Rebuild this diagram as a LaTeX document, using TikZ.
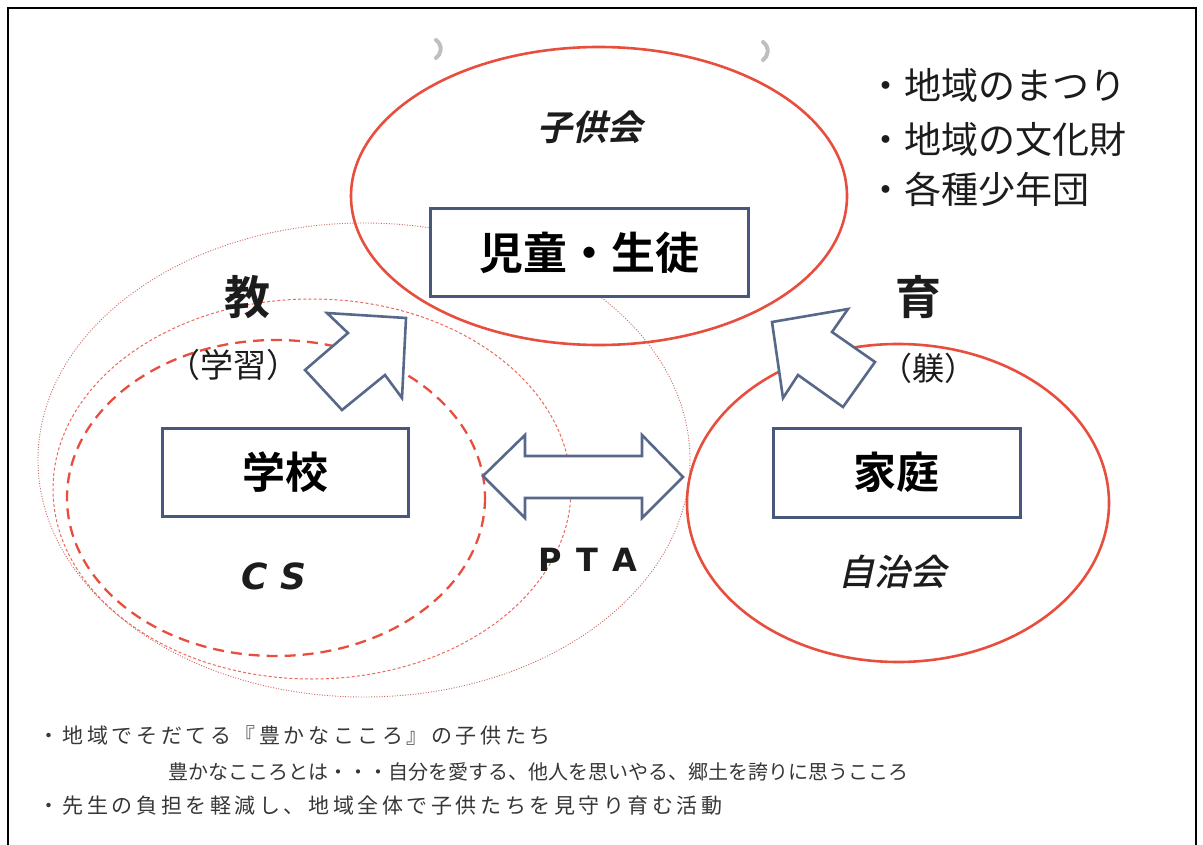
\documentclass[tikz,border=0pt]{standalone}
\usepackage{fontspec}
\newfontfamily\cjk[BoldFont={* Bold}]{Noto Sans CJK JP}
\newfontfamily\cjkwide[LetterSpace=17]{Noto Sans CJK JP}
\newfontfamily\cjkslant[FakeSlant=0.22]{Noto Sans CJK JP Bold}
\newfontfamily\cjkslantm[FakeSlant=0.22]{Noto Sans CJK JP Medium}
\newfontfamily\latinbi{DejaVu Sans}
\definecolor{ered}{RGB}{232,78,62}
\definecolor{edot}{RGB}{205,105,100}
\definecolor{eblue}{RGB}{72,88,124}
\definecolor{ablue}{RGB}{88,104,138}
\definecolor{ink}{RGB}{28,28,28}
\definecolor{note}{RGB}{55,55,55}
\tikzset{
  box/.style={draw=eblue, line width=3pt, fill=white, inner sep=0pt},
  redring/.style={draw=ered, line width=2.6pt},
  reddash/.style={draw=ered, line width=2.3pt, dash pattern=on 11pt off 7pt},
  reddot/.style={draw=edot, line width=0.9pt, dash pattern=on 1pt off 1.6pt},
  redfine/.style={draw=ered!85, line width=1pt, dash pattern=on 3pt off 2.2pt},
  blockarrow/.style={draw=ablue, line width=2.6pt, line join=miter, fill=white},
  hole/.style={draw=gray!50, line width=4pt, line cap=round},
  lbl/.style={text=ink, inner sep=0pt},
}
\begin{document}
\begin{tikzpicture}[x=1pt,y=-1pt]
\useasboundingbox (0,0) rectangle (1203,845);
% frame
\draw[line width=1.6pt, black] (8,845) -- (8,8) -- (1196,8) -- (1196,845);
% binder hole shadows
\draw[hole] (436,40) arc[start angle=55, end angle=-55, radius=11pt];
\draw[hole] (763,42) arc[start angle=55, end angle=-55, radius=11pt];
% dotted / dashed ellipses (left group)
\draw[reddot] (364,460) ellipse[x radius=326, y radius=237];
\draw[redfine] (312,489) ellipse[x radius=259, y radius=190];
\draw[reddash] (276,498) ellipse[x radius=209, y radius=158];
% solid ellipses
\draw[redring] (599,196) ellipse[x radius=248, y radius=149];
\draw[redring] (898,503) ellipse[x radius=211, y radius=159];
% boxes
\node[box, minimum width=318pt, minimum height=88pt] (kids) at (589,253)
  {\cjk\bfseries\fontsize{44}{48}\selectfont 児童・生徒};
\node[box, minimum width=246pt, minimum height=88pt] (school) at (285,472)
  {\cjk\bfseries\fontsize{43}{46}\selectfont 学校};
\node[box, minimum width=247pt, minimum height=89pt] (home) at (896.5,472.5)
  {\cjk\bfseries\fontsize{43}{46}\selectfont 家庭};
% block arrow: school -> kids
\draw[blockarrow] (406,318) -- (327,313) -- (348,333) -- (305,370) -- (342,410)
  -- (385,375) -- (402,398) -- cycle;
% block arrow: home -> kids
\draw[blockarrow] (772,322) -- (848,309) -- (832,332) -- (875,362) -- (843,407)
  -- (798,375) -- (783,398) -- cycle;
% PTA double arrow
\draw[blockarrow] (483,476) -- (525,435) -- (525,456) -- (642,456) -- (642,435)
  -- (683,477) -- (642,518) -- (642,498) -- (525,498) -- (525,518) -- cycle;
% labels
\node[lbl] (kodomokai) at (590,127) {\cjkslant\fontsize{35}{38}\selectfont 子供会};
\node[lbl] (jichikai) at (892,572) {\cjkslantm\fontsize{36}{38}\selectfont 自治会};
\node[lbl] (kyo) at (247,297) {\cjk\bfseries\fontsize{46}{48}\selectfont 教};
\node[lbl] (gakushu) at (233,365) {\cjk\fontsize{33}{35}\selectfont （学習）};
\node[lbl] (iku) at (918,297) {\cjk\bfseries\fontsize{46}{48}\selectfont 育};
\node[lbl] (shitsuke) at (928,368) {\cjk\fontsize{32}{34}\selectfont （躾）};
\node[lbl] (cs) at (274,576) {\latinbi\bfseries\itshape\fontsize{36}{38}\selectfont C\,\,S};
\node[lbl] (pta) at (588,560) {\latinbi\bfseries\fontsize{32}{34}\selectfont P\hspace{14pt}T\hspace{14pt}A};
% list top right
\node[lbl, anchor=west] (l1) at (867,85) {\cjk\fontsize{37}{40}\selectfont ・地域のまつり};
\node[lbl, anchor=west] (l2) at (867,139) {\cjk\fontsize{37}{40}\selectfont ・地域の文化財};
\node[lbl, anchor=west] (l3) at (867,189) {\cjk\fontsize{37}{40}\selectfont ・各種少年団};
% notes bottom
\node[lbl, text=note, anchor=west] (n1) at (38,736) {\cjkwide\fontsize{21}{24}\selectfont ・地域でそだてる『豊かなこころ』の子供たち};
\node[lbl, text=note, anchor=west] (n2) at (168,772) {\cjk\fontsize{20}{24}\selectfont 豊かなこころとは・・・自分を愛する、他人を思いやる、郷土を誇りに思うこころ};
\node[lbl, text=note, anchor=west] (n3) at (38,806) {\cjkwide\fontsize{21}{24}\selectfont ・先生の負担を軽減し、地域全体で子供たちを見守り育む活動};
\end{tikzpicture}
\end{document}
